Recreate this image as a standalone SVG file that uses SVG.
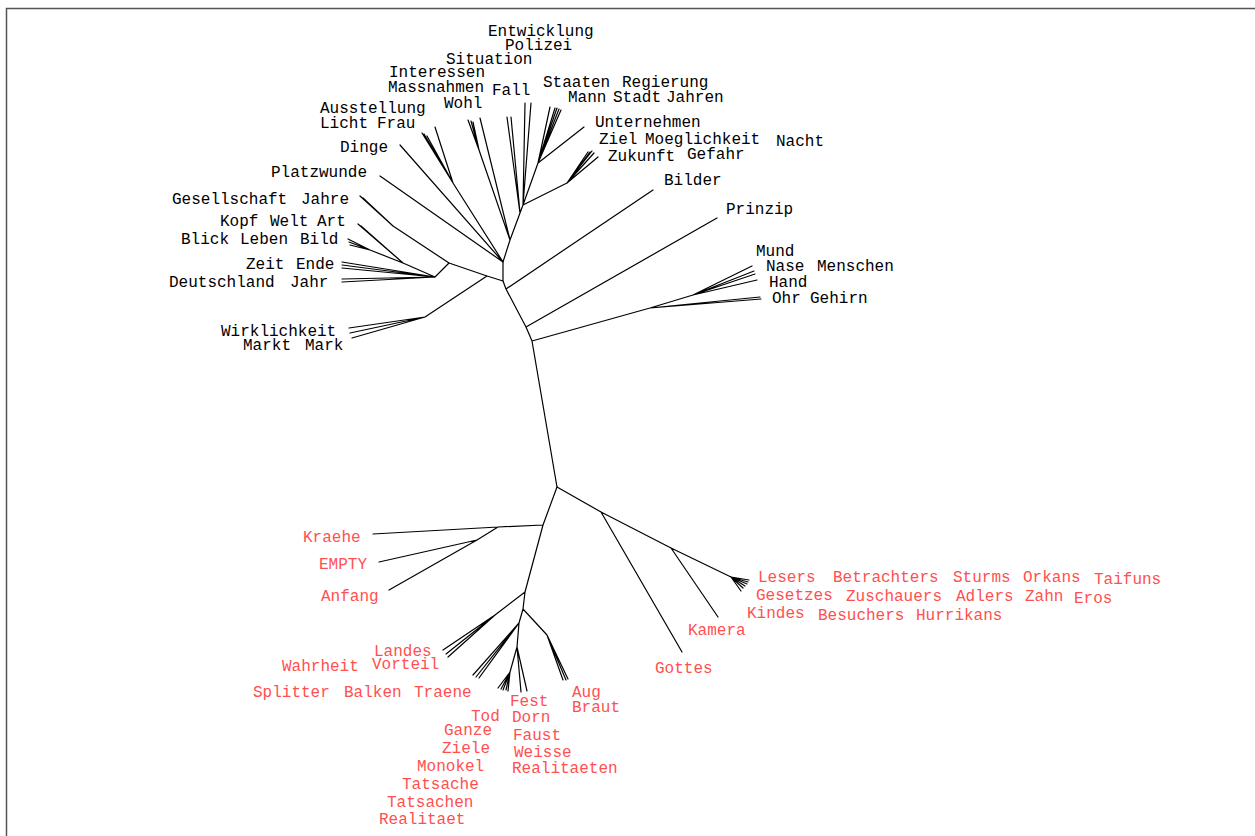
<svg xmlns="http://www.w3.org/2000/svg" width="1255" height="836" viewBox="0 0 1255 836">
<style>
.t{font-family:"Liberation Mono","Courier New",monospace;font-size:16px;fill:#000}
.r{fill:#ff5050}
.e{fill:none;stroke:#000;stroke-width:1.2;stroke-linecap:round;stroke-linejoin:round}
.f{fill:none;stroke:#555;stroke-width:1.5}
</style>
<rect width="1255" height="836" fill="#fff"/>
<g id="frame"><path class="f" d="M6.5 836V8.5H1255"/></g>
<g id="connectors">
<path class="e" d="M503 262L503 281M503 281L506 289L526 327L532 341L557 487M506 289L653 190M526 327L717 218M532 341L650 308M650 308L760 297M650 308L761 299M650 308L693 295M693 295L752 266M693 295L754 271M693 295L755 274M693 295L757 280"/>
<path class="e" d="M503 281L487 276L449 263M487 276L425 317M425 317L349 328M425 317L350 333M425 317L352 338M449 263L435 277M449 263L393 226M393 226L360 196M393 226L363 198M435 277L403 263M403 263L358 224M403 263L361 226M403 263L370 250M370 250L348 239M370 250L349 242M370 250L350 245M435 277L342 262M435 277L342 265M435 277L342 268M435 277L342 279M435 277L342 282"/>
<path class="e" d="M503 262L400 145M503 262L380 176M503 262L453 183M453 183L422 133M453 183L424 134M453 183L427 136M453 183L435 127M503 262L510 240M510 240L479 150M479 150L468 120M479 150L471 121M479 150L473 122M510 240L480 118M510 240L520 213L523 205M520 213L507 117M520 213L511 117M523 205L525 103M523 205L531 103M523 205L538 163M538 163L550 107M538 163L555 108M538 163L557 108M538 163L559 109M538 163L561 110M538 163L584 127M523 205L567 183M567 183L588 152M567 183L590 152M567 183L592 151M567 183L594 153M567 183L598 157"/>
<path class="e" d="M557 487L601 512M601 512L682 652M601 512L671 548M671 548L718 617M671 548L731 577M731 577L749 580M731 577L748 582M731 577L747 584M731 577L745 586M731 577L743 588M731 577L741 591M557 487L543 525M543 525L498 527L373 534M498 527L477 540M477 540L379 562M477 540L389 590M543 525L525 592M525 592L495 615M495 615L443 650M495 615L446 654M495 615L448 657M525 592L523 609L519 623L517 647M523 609L547 635M547 635L563 680M547 635L566 680M547 635L568 679M519 623L473 675M519 623L476 677M519 623L479 678M517 647L510 672M510 672L498 688M510 672L501 689M510 672L503 690M510 672L506 690M510 672L508 691M517 647L521 692M517 647L527 691"/>
</g>
<g id="n-Entwicklung"><text class="t" x="488" y="36">Entwicklung</text></g>
<g id="n-Polizei"><text class="t" x="505" y="50">Polizei</text></g>
<g id="n-Situation"><text class="t" x="446" y="64">Situation</text></g>
<g id="n-Interessen"><text class="t" x="389" y="77">Interessen</text></g>
<g id="n-Massnahmen"><text class="t" x="388" y="92">Massnahmen</text></g>
<g id="n-Fall"><text class="t" x="492" y="95">Fall</text></g>
<g id="n-Wohl"><text class="t" x="444" y="108">Wohl</text></g>
<g id="n-Ausstellung"><text class="t" x="320" y="113">Ausstellung</text></g>
<g id="n-Licht"><text class="t" x="320" y="128">Licht</text></g>
<g id="n-Frau"><text class="t" x="377" y="128">Frau</text></g>
<g id="n-Dinge"><text class="t" x="340" y="152">Dinge</text></g>
<g id="n-Platzwunde"><text class="t" x="271" y="177">Platzwunde</text></g>
<g id="n-Gesellschaft"><text class="t" x="172" y="204">Gesellschaft</text></g>
<g id="n-Jahre"><text class="t" x="301" y="204">Jahre</text></g>
<g id="n-Kopf"><text class="t" x="220" y="226">Kopf</text></g>
<g id="n-Welt"><text class="t" x="270" y="226">Welt</text></g>
<g id="n-Art"><text class="t" x="317" y="226">Art</text></g>
<g id="n-Blick"><text class="t" x="181" y="244">Blick</text></g>
<g id="n-Leben"><text class="t" x="240" y="244">Leben</text></g>
<g id="n-Bild"><text class="t" x="300" y="244">Bild</text></g>
<g id="n-Zeit"><text class="t" x="246" y="269">Zeit</text></g>
<g id="n-Ende"><text class="t" x="296" y="269">Ende</text></g>
<g id="n-Deutschland"><text class="t" x="169" y="287">Deutschland</text></g>
<g id="n-Jahr"><text class="t" x="290" y="287">Jahr</text></g>
<g id="n-Wirklichkeit"><text class="t" x="221" y="336">Wirklichkeit</text></g>
<g id="n-Markt"><text class="t" x="243" y="350">Markt</text></g>
<g id="n-Mark"><text class="t" x="305" y="350">Mark</text></g>
<g id="n-Staaten"><text class="t" x="543" y="87">Staaten</text></g>
<g id="n-Regierung"><text class="t" x="622" y="87">Regierung</text></g>
<g id="n-Mann"><text class="t" x="568" y="102">Mann</text></g>
<g id="n-Stadt"><text class="t" x="613" y="102">Stadt</text></g>
<g id="n-Jahren"><text class="t" x="666" y="102">Jahren</text></g>
<g id="n-Unternehmen"><text class="t" x="595" y="127">Unternehmen</text></g>
<g id="n-Ziel"><text class="t" x="599" y="144">Ziel</text></g>
<g id="n-Moeglichkeit"><text class="t" x="645" y="144">Moeglichkeit</text></g>
<g id="n-Nacht"><text class="t" x="776" y="146">Nacht</text></g>
<g id="n-Zukunft"><text class="t" x="608" y="161">Zukunft</text></g>
<g id="n-Gefahr"><text class="t" x="687" y="159">Gefahr</text></g>
<g id="n-Bilder"><text class="t" x="664" y="185">Bilder</text></g>
<g id="n-Prinzip"><text class="t" x="726" y="214">Prinzip</text></g>
<g id="n-Mund"><text class="t" x="756" y="256">Mund</text></g>
<g id="n-Nase"><text class="t" x="766" y="271">Nase</text></g>
<g id="n-Menschen"><text class="t" x="817" y="271">Menschen</text></g>
<g id="n-Hand"><text class="t" x="769" y="287">Hand</text></g>
<g id="n-Ohr"><text class="t" x="772" y="303">Ohr</text></g>
<g id="n-Gehirn"><text class="t" x="810" y="303">Gehirn</text></g>
<g id="n-Kraehe"><text class="t r" x="303" y="542">Kraehe</text></g>
<g id="n-EMPTY"><text class="t r" x="319" y="569">EMPTY</text></g>
<g id="n-Anfang"><text class="t r" x="321" y="601">Anfang</text></g>
<g id="n-Lesers"><text class="t r" x="758" y="582">Lesers</text></g>
<g id="n-Betrachters"><text class="t r" x="833" y="582">Betrachters</text></g>
<g id="n-Sturms"><text class="t r" x="953" y="582">Sturms</text></g>
<g id="n-Orkans"><text class="t r" x="1023" y="582">Orkans</text></g>
<g id="n-Taifuns"><text class="t r" x="1094" y="584">Taifuns</text></g>
<g id="n-Gesetzes"><text class="t r" x="756" y="600">Gesetzes</text></g>
<g id="n-Zuschauers"><text class="t r" x="846" y="601">Zuschauers</text></g>
<g id="n-Adlers"><text class="t r" x="956" y="601">Adlers</text></g>
<g id="n-Zahn"><text class="t r" x="1025" y="601">Zahn</text></g>
<g id="n-Eros"><text class="t r" x="1074" y="603">Eros</text></g>
<g id="n-Kindes"><text class="t r" x="747" y="618">Kindes</text></g>
<g id="n-Besuchers"><text class="t r" x="818" y="620">Besuchers</text></g>
<g id="n-Hurrikans"><text class="t r" x="916" y="620">Hurrikans</text></g>
<g id="n-Kamera"><text class="t r" x="688" y="635">Kamera</text></g>
<g id="n-Gottes"><text class="t r" x="655" y="673">Gottes</text></g>
<g id="n-Landes"><text class="t r" x="374" y="656">Landes</text></g>
<g id="n-Vorteil"><text class="t r" x="372" y="669">Vorteil</text></g>
<g id="n-Wahrheit"><text class="t r" x="282" y="671">Wahrheit</text></g>
<g id="n-Splitter"><text class="t r" x="253" y="697">Splitter</text></g>
<g id="n-Balken"><text class="t r" x="344" y="697">Balken</text></g>
<g id="n-Traene"><text class="t r" x="414" y="697">Traene</text></g>
<g id="n-Fest"><text class="t r" x="510" y="706">Fest</text></g>
<g id="n-Aug"><text class="t r" x="572" y="697">Aug</text></g>
<g id="n-Braut"><text class="t r" x="572" y="712">Braut</text></g>
<g id="n-Tod"><text class="t r" x="471" y="721">Tod</text></g>
<g id="n-Dorn"><text class="t r" x="512" y="722">Dorn</text></g>
<g id="n-Ganze"><text class="t r" x="444" y="735">Ganze</text></g>
<g id="n-Faust"><text class="t r" x="513" y="740">Faust</text></g>
<g id="n-Ziele"><text class="t r" x="442" y="753">Ziele</text></g>
<g id="n-Weisse"><text class="t r" x="514" y="757">Weisse</text></g>
<g id="n-Monokel"><text class="t r" x="417" y="771">Monokel</text></g>
<g id="n-Realitaeten"><text class="t r" x="512" y="773">Realitaeten</text></g>
<g id="n-Tatsache"><text class="t r" x="402" y="789">Tatsache</text></g>
<g id="n-Tatsachen"><text class="t r" x="387" y="807">Tatsachen</text></g>
<g id="n-Realitaet"><text class="t r" x="379" y="824">Realitaet</text></g>
</svg>
